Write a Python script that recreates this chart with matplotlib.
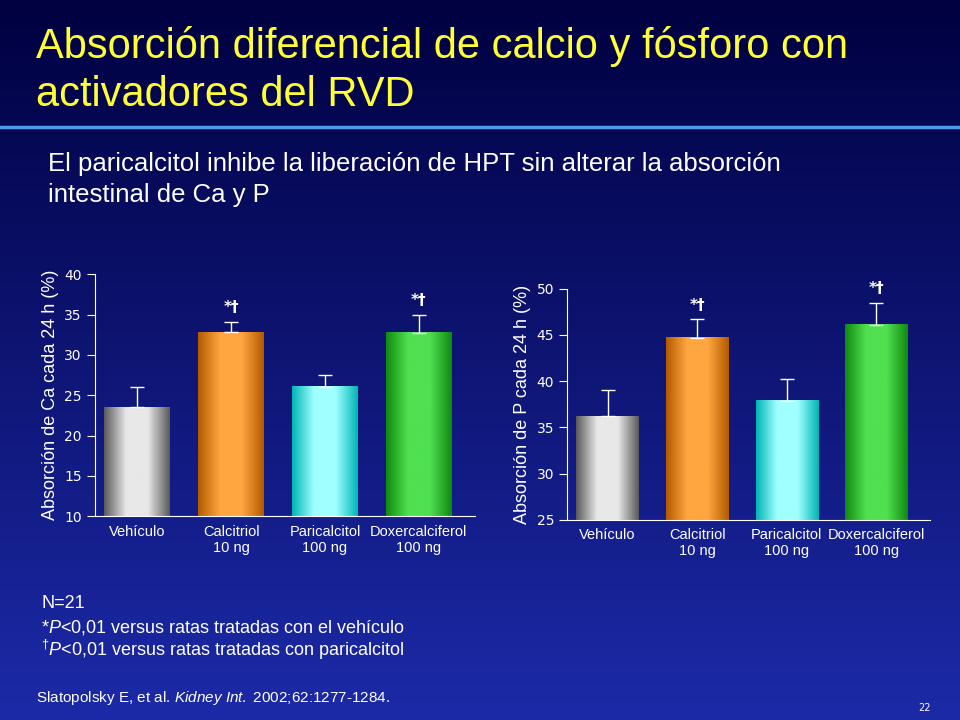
import numpy as np
import matplotlib
matplotlib.use("Agg")
import matplotlib.pyplot as plt
from matplotlib.colors import LinearSegmentedColormap

plt.rcParams["mathtext.fontset"] = "custom"
plt.rcParams["mathtext.it"] = "Liberation Sans:italic"
plt.rcParams["mathtext.rm"] = "Liberation Sans"

categories = ["Vehículo", "Calcitriol\n10 ng", "Paricalcitol\n100 ng", "Doxercalciferol\n100 ng"]
ca_values = [23.5, 32.8, 26.0, 32.7]
ca_errors = [2.5, 1.3, 1.5, 2.3]
p_values = [36.2, 44.7, 37.9, 46.1]
p_errors = [2.8, 2.0, 2.3, 2.4]
ca_ticks = [10, 15, 20, 25, 30, 35, 40]
p_ticks = [25, 30, 35, 40, 45, 50]
sig = ["", "*†", "", "*†"]
bar_colors = [("#5a5a5a", "#e8e8e8"), ("#b35a00", "#ffa640"), ("#00b5b5", "#a0ffff"), ("#108a10", "#50e050")]

fig = plt.figure(figsize=(9.6, 7.2), dpi=100)
bg = fig.add_axes([0, 0, 1, 1], zorder=-10)
grad = np.linspace(0, 1, 256).reshape(-1, 1)
bg.imshow(grad, aspect="auto", extent=[0, 1, 0, 1], origin="upper",
          cmap=LinearSegmentedColormap.from_list("b", ["#000040", "#1c2aa8"]))
bg.set_axis_off()
bg.plot([0, 1], [1 - 127/720, 1 - 127/720], color="#4f9be8", lw=2.5)

fig.text(0.038, 0.935, "Absorción diferencial de calcio y fósforo con", color="#ffff33", fontsize=30, fontfamily="Liberation Sans", va="center")
fig.text(0.038, 0.868, "activadores del RVD", color="#ffff33", fontsize=30, fontfamily="Liberation Sans", va="center")
fig.text(0.05, 0.772, "El paricalcitol inhibe la liberación de HPT sin alterar la absorción", color="white", fontsize=18.5, fontfamily="Liberation Sans", va="center")
fig.text(0.05, 0.729, "intestinal de Ca y P", color="white", fontsize=18.5, fontfamily="Liberation Sans", va="center")

def shade(ax, x, h, base, w, c):
    cm = LinearSegmentedColormap.from_list("s", [c[0], c[1], c[1], c[0]])
    g = np.linspace(0, 1, 200).reshape(1, -1)
    ax.imshow(g, aspect="auto", cmap=cm, extent=[x - w/2, x + w/2, base, h], zorder=2)

def panel(rect, vals, errs, ticks, ylabel):
    ax = fig.add_axes(rect)
    ax.set_facecolor("none")
    x = np.arange(len(vals))
    w = 0.7
    for i in x:
        shade(ax, i, vals[i], ticks[0], w, bar_colors[i])
        ax.errorbar(i, vals[i], yerr=[[0], [errs[i]]], color="white", capsize=5, lw=1, zorder=3)
        if sig[i]:
            ax.text(i, vals[i] + errs[i] + (ticks[-1]-ticks[0])*0.04, sig[i], color="white", ha="center", fontsize=11, fontweight="bold")
    ax.set_xlim(-0.45, 3.6)
    ax.set_ylim(ticks[0], ticks[-1])
    ax.set_yticks(ticks)
    ax.set_xticks(x)
    ax.set_xticklabels(categories, fontsize=10.5, color="white", fontfamily="Liberation Sans")
    ax.tick_params(axis="x", length=0, pad=6)
    ax.tick_params(axis="y", colors="white", labelsize=10, direction="out", length=6)
    for s in ["top", "right"]:
        ax.spines[s].set_visible(False)
    for s in ["left", "bottom"]:
        ax.spines[s].set_color("white")
    ax.set_ylabel(ylabel, color="white", fontsize=13, fontfamily="Liberation Sans")
    return ax

panel([0.099, 0.283, 0.396, 0.336], ca_values, ca_errors, ca_ticks, "Absorción de Ca cada 24 h (%)")
panel([0.591, 0.278, 0.378, 0.321], p_values, p_errors, p_ticks, "Absorción de P cada 24 h (%)")

fs = 13
fig.text(0.043, 0.155, "N=21", color="white", fontsize=fs, fontfamily="Liberation Sans")
fig.text(0.043, 0.122, "*$P$<0,01 versus ratas tratadas con el vehículo", color="white", fontsize=fs, fontfamily="Liberation Sans")
fig.text(0.043, 0.089, "$^{\\dagger}P$<0,01 versus ratas tratadas con paricalcitol", color="white", fontsize=fs, fontfamily="Liberation Sans")
fig.text(0.038, 0.025, "Slatopolsky E, et al. $Kidney\\ Int.$ 2002;62:1277-1284.", color="white", fontsize=11, fontfamily="Liberation Sans")
fig.text(0.97, 0.012, "22", color="white", fontsize=7, ha="right")

fig.savefig("out.png", dpi=100)
